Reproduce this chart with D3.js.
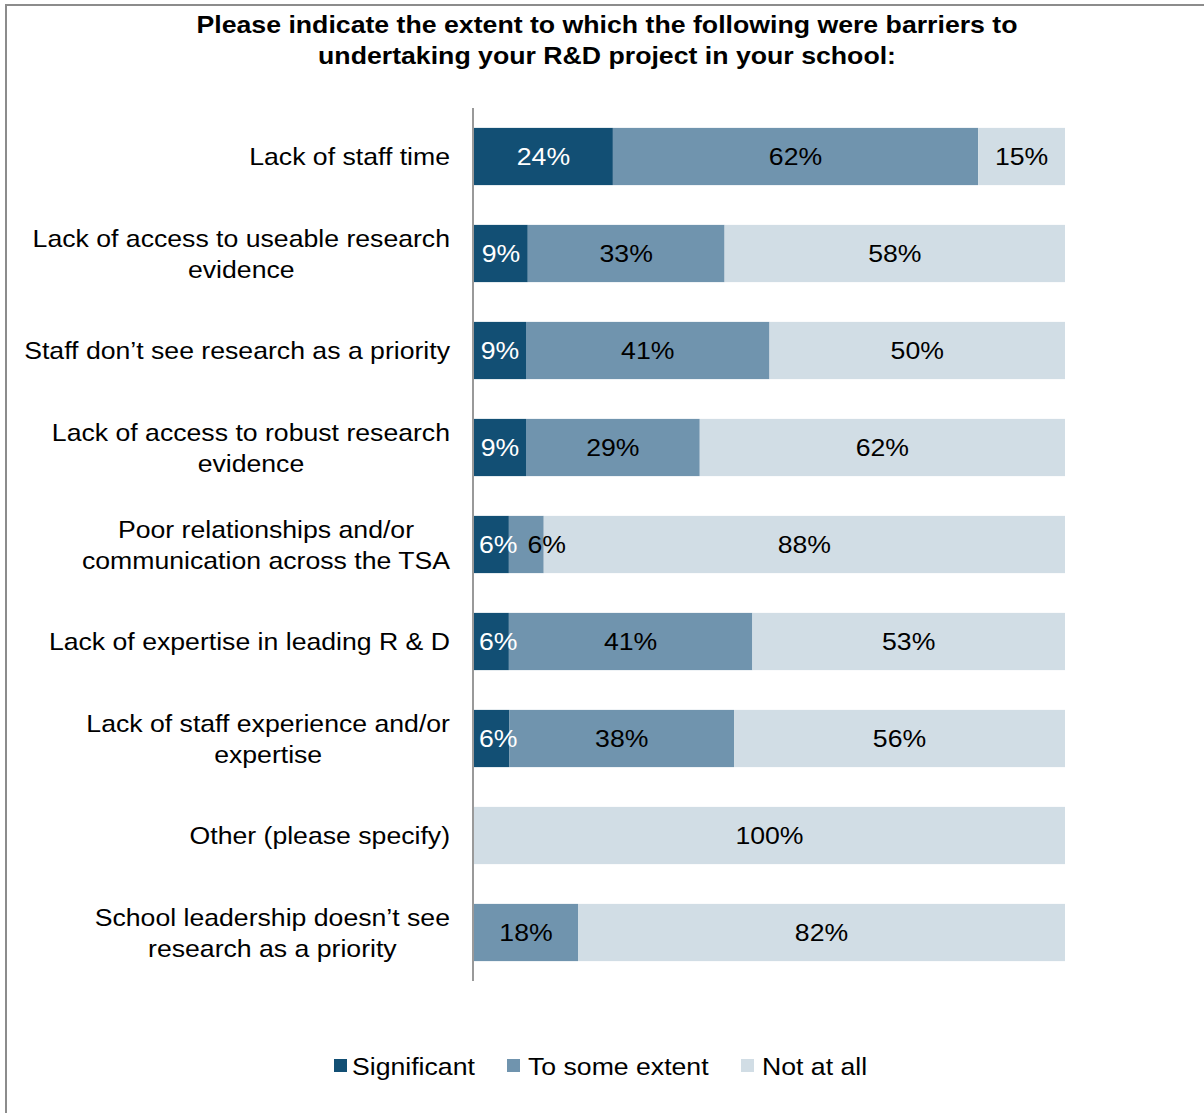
<!DOCTYPE html>
<html><head><meta charset="utf-8">
<script src="https://cdn.jsdelivr.net/npm/d3@7"></script>
<style>
html,body{margin:0;padding:0;background:#fff;}
svg{display:block;font-family:"Liberation Sans",Arial,sans-serif;}
</style></head>
<body>
<svg id="chart" width="1204" height="1113"></svg>
<script>
const titleLines = ["Please indicate the extent to which the following were barriers to",
                    "undertaking your R&D project in your school:"];
const categories = [
  ["Lack of staff time"],
  ["Lack of access to useable research", "evidence"],
  ["Staff don\u2019t see research as a priority"],
  ["Lack of access to robust research", "evidence"],
  ["Poor relationships and/or", "communication across the TSA"],
  ["Lack of expertise in leading R & D"],
  ["Lack of staff experience and/or", "expertise"],
  ["Other (please specify)"],
  ["School leadership doesn\u2019t see", "research as a priority"]
];
const seriesNames = ["Significant", "To some extent", "Not at all"];
const significant = [23.5, 9.1, 8.8, 8.8, 5.9, 5.9, 6.0, 0, 0];
const someExtent  = [61.8, 33.3, 41.2, 29.4, 5.9, 41.2, 38.0, 0, 17.6];
const notAtAll    = [14.7, 57.6, 50.0, 61.8, 88.2, 52.9, 56.0, 100, 82.4];
const colors = ["#124f74", "#7094ae", "#d1dde5"];
const labelColors = ["#ffffff", "#000000", "#000000"];

const SX = 1.11; // horizontal stretch of the reference's text

const svg = d3.select("#chart");
// outer border
svg.append("rect").attr("x", 6).attr("y", 5).attr("width", 1210).attr("height", 1120)
  .attr("fill", "none").attr("stroke", "#8c8c8c").attr("stroke-width", 2);

// helper: stretched text; anchor: "start" | "middle" | "end"
function sText(parent, str, x, y, opts) {
  const o = Object.assign({size: 24, weight: "normal", fill: "#000", anchor: "start", sx: SX}, opts || {});
  const g = parent.append("g").attr("transform", `translate(${x},${y})`);
  const t = g.append("text").attr("font-size", o.size).attr("font-weight", o.weight)
    .attr("fill", o.fill).attr("text-anchor", o.anchor).attr("dy", "0.36em")
    .attr("transform", `scale(${o.sx},1)`).text(str);
  return {g, t, width: t.node().getComputedTextLength() * o.sx,
          move(nx) { g.attr("transform", `translate(${nx},${y})`); }};
}

// title
titleLines.forEach((l, i) => sText(svg, l, 607, 25 + i * 31, {size: 23.5, weight: "bold", anchor: "middle", sx: 1.136}));

const x = d3.scaleLinear().domain([0, 100]).range([474, 1065]);
const y = d3.scaleBand().domain(d3.range(categories.length)).range([108, 981])
  .paddingInner(0.41).paddingOuter(0.205);

const rows = categories.map((c, i) => ({i, vals: [significant[i], someExtent[i], notAtAll[i]]}));
const stack = d3.stack().keys([0, 1, 2]).value((d, k) => d.vals[k]);
const layers = stack(rows);

const g = svg.append("g");
layers.forEach((layer, k) => {
  g.append("g").selectAll("rect").data(layer.filter(d => d[1] - d[0] > 0)).join("rect")
    .attr("x", d => x(d[0])).attr("y", d => y(d.data.i))
    .attr("width", d => x(d[1]) - x(d[0])).attr("height", y.bandwidth())
    .attr("fill", colors[k]);
});

// value labels with collision avoidance
const lg = svg.append("g");
rows.forEach(r => {
  let prevRight = -Infinity;
  let start = 0;
  const cy = y(r.i) + y.bandwidth() / 2;
  r.vals.forEach((v, k) => {
    const s0 = start, s1 = start + v;
    start = s1;
    if (v <= 0) return;
    const t = sText(lg, Math.round(v) + "%", 0, cy, {fill: labelColors[k]});
    let left = (x(s0) + x(s1)) / 2 - t.width / 2;
    left = Math.max(left, x(0) + 5, prevRight + 10);
    t.move(left);
    prevRight = left + t.width;
  });
});

// category labels
const cg = svg.append("g");
categories.forEach((lines, i) => {
  const cy = y(i) + y.bandwidth() / 2;
  const ts = lines.map((l, j) => sText(cg, l, 0, cy + (j - (lines.length - 1) / 2) * 31, {anchor: "middle"}));
  const maxW = d3.max(ts, t => t.width);
  ts.forEach(t => t.move(450 - maxW / 2));
});

// axis line
svg.append("line").attr("x1", 473).attr("x2", 473).attr("y1", 108).attr("y2", 981)
  .attr("stroke", "#999").attr("stroke-width", 2);

// legend
const legendX = [334, 507, 741];
const legendTextX = [352, 528, 762];
const leg = svg.append("g");
seriesNames.forEach((n, k) => {
  leg.append("rect").attr("x", legendX[k]).attr("y", 1059).attr("width", 13).attr("height", 13).attr("fill", colors[k]);
  sText(leg, n, legendTextX[k], 1066);
});
</script>
</body></html>
